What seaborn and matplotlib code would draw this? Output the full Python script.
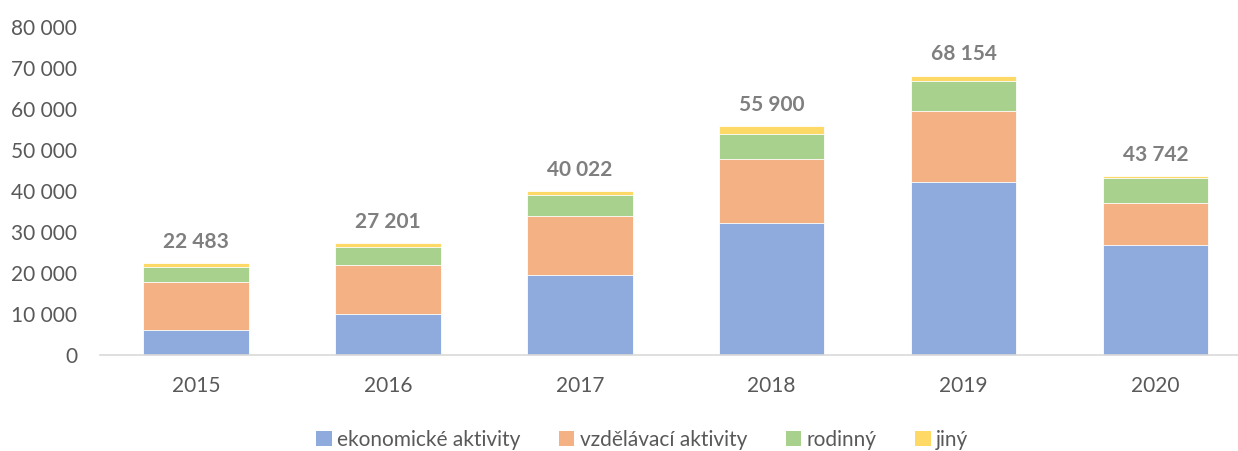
import numpy as np
import pandas as pd
import matplotlib
matplotlib.use("Agg")
import matplotlib.pyplot as plt
from matplotlib.patches import Patch
from matplotlib.ticker import FuncFormatter
import seaborn as sns

years = ["2015", "2016", "2017", "2018", "2019", "2020"]
ekonomicke = [6100, 10000, 19500, 32300, 42300, 26800]
vzdelavaci = [11700, 12000, 14400, 15600, 17100, 10300]
rodinny = [3600, 4400, 5100, 6100, 7500, 6100]
jiny = [1083, 801, 1022, 1900, 1254, 542]
totals = [22483, 27201, 40022, 55900, 68154, 43742]

series_names = ["ekonomické aktivity", "vzdělávací aktivity", "rodinný", "jiný"]
colors = ["#8FAADC", "#F4B183", "#A9D18E", "#FFD966"]

sns.set_theme(style="white")
plt.rcParams["font.family"] = ["Lato", "DejaVu Sans"]

df = pd.DataFrame({
    "year": years,
    "s1": np.array(ekonomicke),
    "s2": np.array(ekonomicke) + np.array(vzdelavaci),
    "s3": np.array(ekonomicke) + np.array(vzdelavaci) + np.array(rodinny),
    "s4": np.array(ekonomicke) + np.array(vzdelavaci) + np.array(rodinny) + np.array(jiny),
})

fig = plt.figure(figsize=(12.38, 4.51), dpi=100)
ax = fig.add_axes([100 / 1238, 96 / 451, 1138 / 1238, (424 - 96) / 451])

for col, c in zip(["s4", "s3", "s2", "s1"], colors[::-1]):
    sns.barplot(data=df, x="year", y=col, color=c, width=0.55, ax=ax,
                saturation=1, linewidth=0.6, edgecolor="white")

ax.set_ylim(0, 80000)
ax.set_xlim(-0.5, 5.43)
ax.set_yticks(range(0, 80001, 10000))
ax.yaxis.set_major_formatter(FuncFormatter(lambda v, p: f"{int(v):,}".replace(",", " ")))
ax.set_xlabel("")
ax.set_ylabel("")
for s in ["top", "right", "left"]:
    ax.spines[s].set_visible(False)
ax.spines["bottom"].set_color("#d9d9d9")
ax.spines["bottom"].set_linewidth(1.2)
ax.tick_params(axis="both", length=0, labelsize=15, colors="#595959")
ax.tick_params(axis="x", pad=15)
ax.tick_params(axis="y", pad=16.5)

for i, t in enumerate(totals):
    ax.annotate(f"{t:,}".replace(",", " "), (i, df["s4"][i]), xytext=(0, 8),
                textcoords="offset points", ha="center", va="bottom",
                fontsize=15, fontweight="bold", color="#7f7f7f")

handles = [Patch(facecolor=c, edgecolor="none") for c in colors]
fig.legend(handles, series_names, loc="center", bbox_to_anchor=(642 / 1238, 1 - 440 / 451),
           ncol=4, frameon=False, fontsize=15, handlelength=0.75, handleheight=0.7,
           handletextpad=0.25, columnspacing=1.85, labelcolor="#595959",
           borderpad=0, borderaxespad=0)

fig.savefig("out.png", dpi=100)
